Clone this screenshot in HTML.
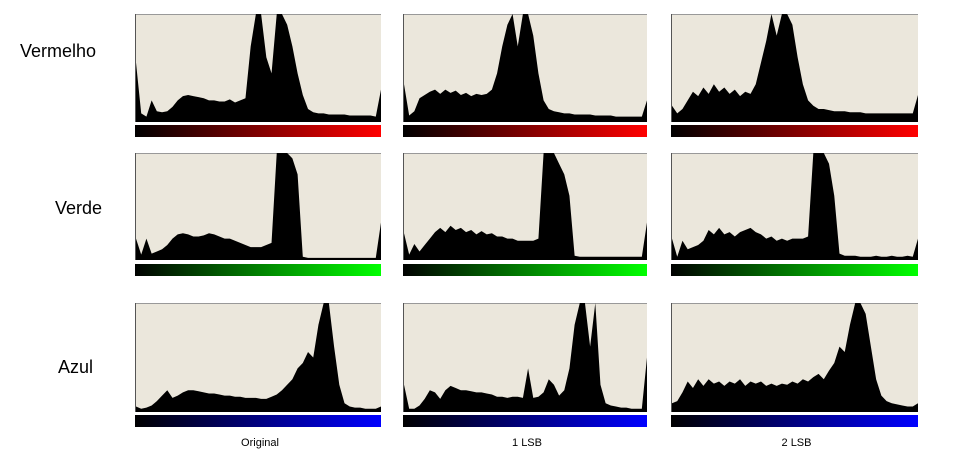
<!DOCTYPE html>
<html><head><meta charset="utf-8">
<style>
body{margin:0;background:#fff;width:969px;height:469px;overflow:hidden;font-family:"Liberation Sans",sans-serif}
svg{position:absolute;left:0;top:0}
.rl{font-family:"Liberation Sans",sans-serif;font-size:18px;fill:#000}
.cl{font-family:"Liberation Sans",sans-serif;font-size:11px;fill:#000}
</style></head>
<body>
<svg id="chart" width="969" height="469" xmlns="http://www.w3.org/2000/svg"></svg>
<script>
// data: histogram profiles (percent of panel height)
const rowLabels = ["Vermelho","Verde","Azul"];
const colLabels = ["Original","1 LSB","2 LSB"];
const redOriginal = [55,8,5,20,10,9,10,14,20,24,25,24,23,22,20,20,19,19,21,18,20,22,70,100,100,60,45,100,100,90,70,45,25,12,9,8,8,7,7,7,7,6,6,6,6,6,5,30];
const red1LSB = [35,6,10,22,25,28,30,26,30,27,29,25,27,24,26,25,26,30,45,70,90,100,70,100,100,80,45,20,12,10,9,8,8,7,7,7,7,6,6,6,6,5,5,5,5,5,5,20];
const red2LSB = [15,8,12,20,28,24,32,26,35,28,32,26,30,24,28,26,35,55,75,100,80,100,100,90,60,35,20,15,12,12,11,10,10,10,9,9,9,8,8,8,8,8,8,8,8,8,8,25];
const greenOriginal = [20,5,20,6,8,10,14,20,24,25,24,22,22,23,25,24,22,20,20,18,16,14,12,12,12,14,16,100,100,100,95,80,3,2,2,2,2,2,2,2,2,2,2,2,2,2,2,35];
const green1LSB = [25,5,15,8,14,20,26,30,26,32,28,30,26,28,24,27,24,25,22,22,20,20,18,18,18,18,20,100,100,100,90,80,60,4,3,3,3,3,3,3,3,3,3,3,3,3,3,35];
const green2LSB = [20,3,18,10,12,14,18,28,24,30,24,26,22,26,28,30,26,24,20,22,18,20,18,20,20,20,22,100,100,100,90,60,6,4,4,4,3,3,3,4,3,3,4,3,3,4,3,20];
const blueOriginal = [5,3,4,6,10,15,20,13,15,18,20,20,19,18,17,17,16,15,15,14,14,13,13,13,12,12,14,16,20,25,30,40,45,55,50,80,100,100,60,25,8,5,4,4,3,3,3,5];
const blue1LSB = [25,3,3,6,12,20,18,12,20,24,22,20,20,19,18,18,17,16,14,14,13,14,14,13,40,13,14,18,30,25,15,20,40,80,100,100,60,100,25,8,6,5,4,4,3,3,3,50];
const blue2LSB = [8,10,18,28,22,30,24,30,26,28,24,28,26,30,24,28,26,28,24,26,24,26,25,28,26,30,28,32,35,30,38,45,60,55,80,100,100,90,60,30,15,10,8,7,6,5,5,8];

const panels = [
 [redOriginal,red1LSB,red2LSB],
 [greenOriginal,green1LSB,green2LSB],
 [blueOriginal,blue1LSB,blue2LSB]];
const colors = ["#ff0000","#00ff00","#0000ff"];
const colX = [[135,381],[403,647],[671,918]];
const rowY = [[14,122,125,137],[153,260,264,276],[303,412,415,427]];

const svg = document.getElementById('chart');
const NS = "http://www.w3.org/2000/svg";
function mk(tag, attrs){const e=document.createElementNS(NS,tag);for(const k in attrs)e.setAttribute(k,attrs[k]);svg.appendChild(e);return e;}

const defs = document.createElementNS(NS,'defs'); svg.appendChild(defs);
colors.forEach((c,i)=>{
  const g=document.createElementNS(NS,'linearGradient');g.setAttribute('id','g'+i);
  const s1=document.createElementNS(NS,'stop');s1.setAttribute('offset','0');s1.setAttribute('stop-color','#000');
  const s2=document.createElementNS(NS,'stop');s2.setAttribute('offset','1');s2.setAttribute('stop-color',c);
  g.appendChild(s1);g.appendChild(s2);defs.appendChild(g);
});

rowLabels.forEach((t,r)=>{
  const y=[57,214,373][r], x=[20,55,58][r];
  const e=mk('text',{x:x,y:y,class:'rl'});e.textContent=t;
  
  
});
colLabels.forEach((t,c)=>{
  const e=mk('text',{x:(colX[c][0]+colX[c][1])/2+2,y:446,class:'cl','text-anchor':'middle'});e.textContent=t;
  
  
});

for(let r=0;r<3;r++)for(let c=0;c<3;c++){
  const [x0,x1]=colX[c];const [top,base,gt,gb]=rowY[r];
  const data=panels[r][c];
  const bg=mk('rect',{x:x0,y:top,width:x1-x0,height:base-top,fill:'#ebe7dc'});
  
  
  mk('line',{x1:x0,y1:top+0.5,x2:x1,y2:top+0.5,stroke:'#999','stroke-width':1});
  mk('line',{x1:x0+0.5,y1:top,x2:x0+0.5,y2:base,stroke:'#555','stroke-width':1});
  const xs=i=>x0+1+(x1-x0-1)*i/(data.length-1);
  const ys=v=>base-(base-top)*v/100;
  let d='M'+xs(0)+','+base;
  data.forEach((v,i)=>{d+=' L'+xs(i)+','+ys(v);});
  d+=' L'+xs(data.length-1)+','+base+' Z';
  const p=mk('path',{d:d,fill:'#000'});
  
  
  const gr=mk('rect',{x:x0,y:gt,width:x1-x0,height:gb-gt,fill:'url(#g'+r+')'});
  
  
}
</script>
</body></html>
